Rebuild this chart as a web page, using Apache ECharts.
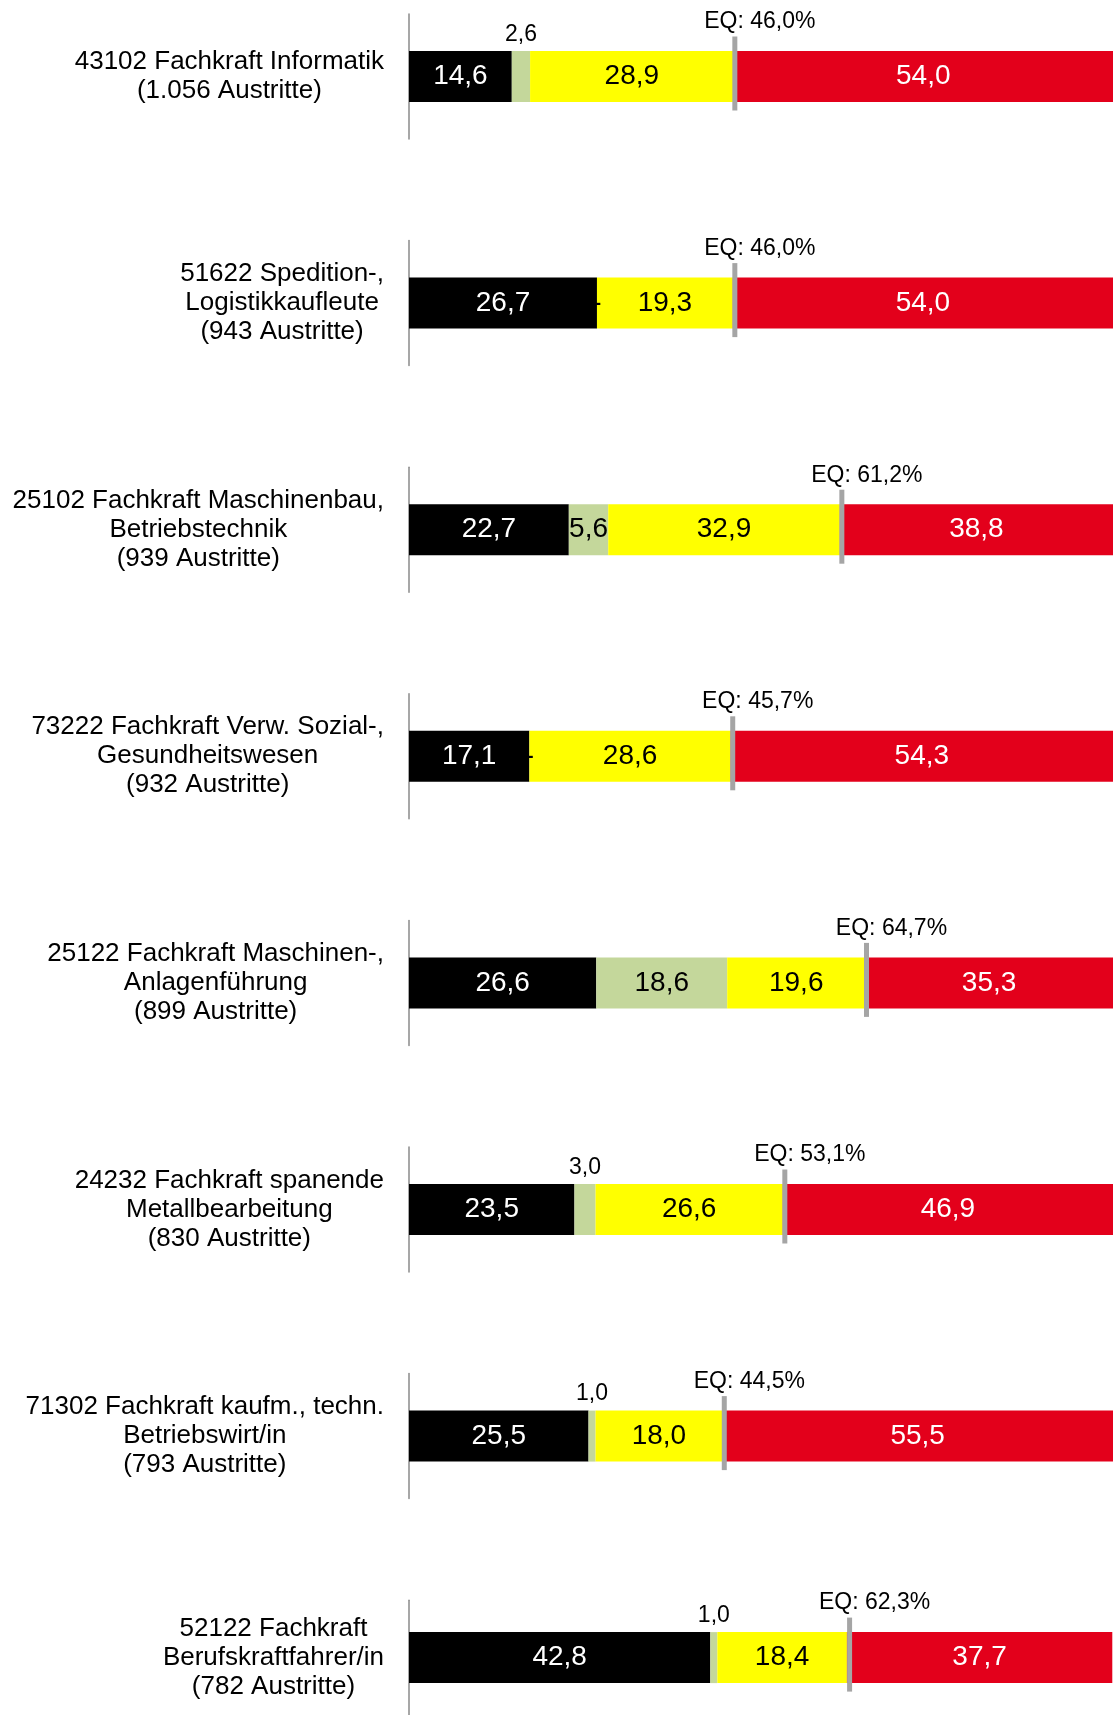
<!DOCTYPE html>
<html>
<head>
<meta charset="utf-8">
<script src="https://cdn.jsdelivr.net/npm/echarts@6/dist/echarts.min.js"></script>
<style>
  body { margin: 0; background: #fff; }
  #main { width: 1113px; height: 1715px; }
</style>
</head>
<body>
<div id="main"></div>
<script>
// Berufe (Zeilen)
var categories = [
  '43102 Fachkraft Informatik\n(1.056 Austritte)',
  '51622 Spedition-,\nLogistikkaufleute\n(943 Austritte)',
  '25102 Fachkraft Maschinenbau,\nBetriebstechnik\n(939 Austritte)',
  '73222 Fachkraft Verw. Sozial-,\nGesundheitswesen\n(932 Austritte)',
  '25122 Fachkraft Maschinen-,\nAnlagenführung\n(899 Austritte)',
  '24232 Fachkraft spanende\nMetallbearbeitung\n(830 Austritte)',
  '71302 Fachkraft kaufm., techn.\nBetriebswirt/in\n(793 Austritte)',
  '52122 Fachkraft\nBerufskraftfahrer/in\n(782 Austritte)'
]
// Anteile in %
var black  = [14.6, 26.7, 22.7, 17.1, 26.6, 23.5, 25.5, 42.8]
var green  = [2.6, 0, 5.6, 0, 18.6, 3.0, 1.0, 1.0]
var yellow = [28.9, 19.3, 32.9, 28.6, 19.6, 26.6, 18.0, 18.4]
var red    = [54.0, 54.0, 38.8, 54.3, 35.3, 46.9, 55.5, 37.7]
var eq     = [46.0, 46.0, 61.2, 45.7, 64.7, 53.1, 44.5, 62.3]

var font = '"Liberation Sans", Arial, sans-serif'
function fmt(v) { return v.toFixed(1).replace('.', ',') }

// Breite der Beschriftung messen (Block rechtsbündig, Zeilen zentriert)
var ctx = document.createElement('canvas').getContext('2d')
ctx.font = '26px "Liberation Sans"'
function blockWidth(s) {
  var w = 0
  s.split('\n').forEach(function (l) { w = Math.max(w, ctx.measureText(l).width) })
  return w
}

var colors = ['#000000', '#c4d79b', '#ffff00', '#e3001b']
var textColors = ['#ffffff', '#000000', '#000000', '#ffffff']
var parts = [black, green, yellow, red]

var grids = [], xAxes = [], yAxes = [], series = []
for (var i = 0; i < categories.length; i++) {
  grids.push({ left: 409, right: -6, top: 14 + i * 226.6, height: 125 })
  xAxes.push({ type: 'value', gridIndex: i, min: 0, max: 100, show: false })
  yAxes.push({
    type: 'category', gridIndex: i, data: [categories[i]],
    axisLine: { show: true, lineStyle: { color: '#8a8a8a', width: 1.5 } },
    axisTick: { show: false },
    splitLine: { show: false },
    axisLabel: {
      align: 'center', margin: 25 + blockWidth(categories[i]) / 2,
      fontSize: 26, lineHeight: 29, color: '#000', fontFamily: font
    }
  })
  for (var k = 0; k < 4; k++) {
    var v = parts[k][i]
    var label = { show: true, position: 'inside', fontSize: 28, color: textColors[k], fontFamily: font, formatter: fmt(v) }
    if (k === 1 && v === 0) {
      label.formatter = '-'
    } else if (k === 1 && v < 4) {
      label.position = 'top'
      label.fontSize = 23
      label.distance = 5
    }
    series.push({
      type: 'bar', stack: 's' + i, xAxisIndex: i, yAxisIndex: i,
      barWidth: 51, silent: true,
      itemStyle: { color: colors[k] },
      data: [{ value: v, label: label }]
    })
  }
  // EQ-Markierung
  series.push({
    type: 'scatter', xAxisIndex: i, yAxisIndex: i, z: 5, silent: true,
    symbol: 'rect', symbolSize: [5, 74], symbolOffset: [2, -3],
    itemStyle: { color: '#a5a5a5', opacity: 1 },
    label: {
      show: true, position: 'top', distance: 3, offset: [25, 0],
      fontSize: 23, color: '#000', fontFamily: font,
      formatter: 'EQ: ' + fmt(eq[i]) + '%'
    },
    data: [[eq[i], 0]]
  })
}

var myChart = echarts.init(document.getElementById('main'))
myChart.setOption({
  animation: false,
  backgroundColor: '#fff',
  textStyle: { fontFamily: font },
  grid: grids,
  xAxis: xAxes,
  yAxis: yAxes,
  series: series
})
</script>
</body>
</html>
